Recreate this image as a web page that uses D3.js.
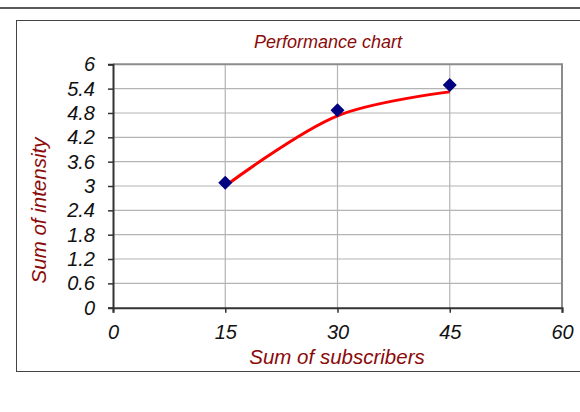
<!DOCTYPE html>
<html lang="en">
<head>
    <meta charset="UTF-8">
    <title>Performance chart</title>
    <style>
        body { margin: 0; background: #fff; }
        svg text { font-family: "Liberation Sans", Arial, sans-serif; font-style: italic; }
    </style>
    <script src="https://d3js.org/d3.v7.min.js"></script>
</head>
<body>
<div id="chart"></div>
<script>
    // Values
    var subscribers = [15, 30, 45];
    var intensity = [3.08, 4.87, 5.49];
    var fitted = [3.0, 4.73, 5.32];
    var xTicks = [0, 15, 30, 45, 60];
    var yTicks = [0, 0.6, 1.2, 1.8, 2.4, 3, 3.6, 4.2, 4.8, 5.4, 6];

    var width = 580, height = 412;
    var plotLeft = 113, plotRight = 562, plotTop = 64.3, plotBottom = 307.7;
    var darkRed = "#8b0a0a";

    var svg = d3.select("#chart").append("svg")
        .attr("width", width)
        .attr("height", height);

    // rule at the very top and the chart frame
    svg.append("line")
        .attr("x1", 0).attr("x2", width)
        .attr("y1", 8).attr("y2", 8)
        .attr("stroke", "#222").attr("stroke-width", 1.5);
    svg.append("rect")
        .attr("x", 16.5).attr("y", 20.5)
        .attr("width", 580).attr("height", 351)
        .attr("fill", "none").attr("stroke", "#444").attr("stroke-width", 1);

    var x = d3.scaleLinear().domain([0, 60]).range([plotLeft, plotRight]);
    var y = d3.scaleLinear().domain([0, 6]).range([plotBottom, plotTop]);

    // gridlines
    svg.append("g").selectAll("line")
        .data(yTicks.slice(1, -1))
        .enter().append("line")
        .attr("x1", plotLeft).attr("x2", plotRight)
        .attr("y1", d => y(d)).attr("y2", d => y(d))
        .attr("stroke", "#b4b4b4").attr("stroke-width", 1.2);
    svg.append("g").selectAll("line")
        .data(xTicks.slice(1, -1))
        .enter().append("line")
        .attr("x1", d => x(d)).attr("x2", d => x(d))
        .attr("y1", plotTop).attr("y2", plotBottom)
        .attr("stroke", "#b4b4b4").attr("stroke-width", 1.2);

    // top and right border of the plot area
    svg.append("path")
        .attr("d", "M" + plotLeft + "," + plotTop + "H" + plotRight + "V" + plotBottom)
        .attr("fill", "none").attr("stroke", "#8c8c8c").attr("stroke-width", 2);

    // axes
    var yAxis = svg.append("g")
        .attr("transform", "translate(" + plotLeft + ",0)")
        .call(d3.axisLeft(y).tickValues(yTicks).tickSize(5).tickPadding(13)
            .tickFormat(d => String(d)));
    var xAxis = svg.append("g")
        .attr("transform", "translate(0," + plotBottom + ")")
        .call(d3.axisBottom(x).tickValues(xTicks).tickSize(5).tickPadding(12));

    [yAxis, xAxis].forEach(function (g) {
        g.select(".domain").attr("stroke", "#333").attr("stroke-width", 2);
        g.selectAll(".tick line").attr("stroke", "#333").attr("stroke-width", 1.5);
        g.selectAll(".tick text")
            .attr("fill", "#111")
            .style("font-size", "20px")
            .style("font-family", "'Liberation Sans', Arial, sans-serif")
            .style("font-style", "italic");
    });

    // smoothed red line
    var line = d3.line()
        .x((d, i) => x(subscribers[i]))
        .y(d => y(d))
        .curve(d3.curveCatmullRom.alpha(0.5));
    svg.append("path")
        .datum(fitted)
        .attr("d", line)
        .attr("fill", "none")
        .attr("stroke", "#ff0000")
        .attr("stroke-width", 3);

    // diamond markers
    svg.append("g").selectAll("path")
        .data(intensity)
        .enter().append("path")
        .attr("d", "M0,-7L7,0L0,7L-7,0Z")
        .attr("transform", (d, i) => "translate(" + x(subscribers[i]) + "," + y(d) + ")")
        .attr("fill", "#000080");

    // titles
    svg.append("text")
        .attr("x", 328).attr("y", 48)
        .attr("text-anchor", "middle")
        .attr("fill", darkRed)
        .style("font-size", "18px")
        .text("Performance chart");
    svg.append("text")
        .attr("x", 337).attr("y", 363.5)
        .attr("text-anchor", "middle")
        .attr("fill", darkRed)
        .style("font-size", "20.5px")
        .text("Sum of subscribers");
    svg.append("text")
        .attr("transform", "translate(46,210.5) rotate(-90)")
        .attr("text-anchor", "middle")
        .attr("fill", darkRed)
        .style("font-size", "20.5px")
        .text("Sum of intensity");
</script>
</body>
</html>
